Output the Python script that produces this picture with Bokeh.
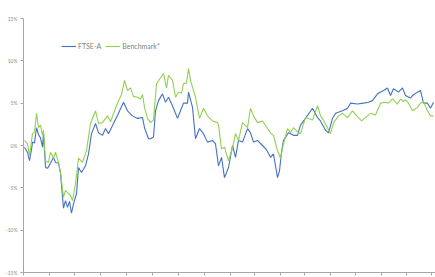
from bokeh.plotting import figure
from bokeh.models import Legend, LegendItem, FixedTicker, Range1d
from bokeh.embed import file_html
from bokeh.resources import INLINE

# trading-day index and cumulative relative performance (%)
ftse_day = [0, 3, 5, 7, 8, 10, 12, 14, 16, 18, 19, 21, 23, 26, 29, 31, 34, 36, 39, 41, 43, 45, 47, 49,
            52, 54, 57, 61, 64, 67, 71, 74, 78, 81, 84, 89, 94, 99, 103, 108, 113, 118, 120, 124, 126,
            129, 131, 134, 138, 141, 144, 148, 153, 156, 159, 163, 164, 168, 171, 175, 179, 183, 188,
            191, 194, 197, 200, 204, 208, 211, 214, 218, 223, 226, 229, 233, 238, 242, 246, 249, 253,
            255, 257, 259, 264, 269, 273, 276, 281, 288, 293, 296, 301, 304, 308, 311, 318, 323, 326,
            333, 339, 344, 348, 353, 359, 363, 366, 369, 374, 378, 381, 386, 388, 393, 396, 399, 403,
            406, 409]
ftse_val = [-0.2, -0.8, -1.8, -0.5, 0.4, 0.3, 2.1, 1.3, 0.9, -0.2, 1.4, -2.6, -2.7, -2.1, -1.4, -2.0,
            -2.1, -3.3, -7.4, -6.5, -7.3, -6.6, -8.0, -6.9, -5.7, -2.6, -3.2, -2.4, -1.0, 1.4, 2.6, 1.5,
            1.2, 2.0, 1.4, 2.6, 3.8, 5.1, 4.1, 3.5, 3.2, 3.3, 2.1, 0.8, 0.8, 1.0, 4.1, 5.3, 6.1, 5.1,
            5.7, 4.7, 3.2, 4.1, 5.0, 5.0, 6.3, 4.5, 0.8, 2.0, 1.4, 0.4, 0.6, 0.2, -2.4, -1.4, -3.8,
            -2.6, 0.0, -1.4, 0.6, 0.4, 2.0, 1.5, 0.4, 0.6, 0.0, -0.5, -1.4, -1.0, -3.8, -3.0, -0.8,
            0.6, 1.5, 1.2, 1.2, 2.4, 3.2, 4.4, 3.3, 2.9, 1.8, 1.5, 3.2, 3.8, 4.1, 4.4, 5.0, 4.9, 5.0,
            5.1, 5.3, 6.1, 6.5, 6.8, 5.9, 6.7, 6.3, 6.8, 5.9, 5.6, 5.9, 6.3, 6.5, 5.0, 5.0, 4.4, 5.1]

bench_day = [0, 3, 5, 8, 10, 12, 14, 16, 18, 19, 21, 24, 26, 29, 31, 34, 36, 39, 41, 44, 46, 48, 51,
             54, 58, 62, 66, 71, 74, 78, 83, 86, 91, 94, 97, 100, 103, 106, 109, 113, 116, 118, 120,
             123, 126, 129, 132, 136, 139, 142, 144, 148, 151, 154, 157, 159, 162, 164, 166, 171,
             175, 179, 183, 188, 193, 194, 197, 200, 204, 208, 211, 214, 218, 223, 226, 229, 233,
             238, 243, 246, 249, 253, 256, 259, 263, 266, 269, 273, 276, 281, 288, 293, 296, 299,
             303, 306, 309, 314, 318, 323, 328, 333, 337, 341, 346, 351, 356, 361, 364, 368, 373,
             376, 379, 381, 384, 388, 393, 396, 399, 403, 406, 409]
bench_val = [0.6, 0.2, -1.2, 1.4, 1.6, 3.8, 2.1, 2.4, 1.2, 1.8, -1.8, -2.0, -0.8, -1.5, -0.8, -2.0,
             -3.2, -6.1, -5.3, -5.7, -5.9, -6.5, -4.5, -1.5, -2.0, -0.6, 2.6, 4.1, 2.6, 2.7, 3.5, 2.8,
             4.4, 5.3, 6.0, 7.7, 6.5, 6.8, 5.8, 5.7, 5.5, 6.0, 4.5, 3.2, 2.7, 3.0, 7.3, 8.0, 8.5, 6.8,
             8.3, 7.7, 5.7, 6.3, 6.2, 7.3, 7.4, 9.1, 7.7, 5.7, 3.2, 4.4, 3.5, 2.9, 2.7, 2.4, -0.4,
             -0.2, -1.8, -0.3, 1.4, 0.6, 2.7, 2.1, 4.4, 3.5, 2.7, 2.9, 2.0, 1.5, 1.2, -0.6, -1.5, 0.2,
             2.0, 1.5, 2.1, 1.6, 1.4, 3.3, 3.0, 4.7, 3.5, 3.0, 2.1, 1.4, 2.7, 3.5, 3.8, 3.3, 4.1, 3.4,
             2.9, 3.3, 3.8, 3.6, 5.0, 5.1, 5.0, 5.5, 4.9, 5.5, 5.2, 5.4, 5.0, 4.1, 4.5, 5.0, 5.2, 4.1,
             3.5, 3.5, 4.1]

series_names = ["FTSE-A", "Benchmark*"]
y_ticks = [-15, -10, -5, 0, 5, 10, 15]
x_ticks = [-1, 25, 50, 76, 102, 128, 154, 180, 206, 230, 256, 280, 306, 331, 357, 382, 407]

BLUE = "#4472C4"
GREEN = "#92D050"
GREY = "#A6A6A6"

p = figure(width=435, height=277, output_backend="svg", toolbar_location=None,
           x_range=Range1d(-1, 411), y_range=Range1d(-15, 15),
           min_border_left=23, min_border_right=0, min_border_top=18, min_border_bottom=5)
p.outline_line_color = None
p.xgrid.grid_line_color = None
p.ygrid.grid_line_color = None

r1 = p.line(ftse_day, ftse_val, color=BLUE, line_width=1.1)
r2 = p.line(bench_day, bench_val, color=GREEN, line_width=1.1)

p.yaxis.ticker = FixedTicker(ticks=y_ticks)
p.yaxis.major_label_overrides = {t: f"{t}%" for t in y_ticks}
p.yaxis.major_label_text_font_size = "5px"
p.yaxis.major_label_text_color = "#8C8C8C"
p.yaxis.major_label_text_font = "Lato"
p.yaxis.axis_line_color = GREY
p.yaxis.major_tick_line_color = GREY
p.yaxis.major_tick_out = 3
p.yaxis.major_tick_in = 0
p.yaxis.minor_tick_line_color = None
p.yaxis.major_label_standoff = 3

p.xaxis.ticker = FixedTicker(ticks=x_ticks)
p.xaxis.major_label_overrides = {t: "" for t in x_ticks}
p.xaxis.major_label_text_font_size = "0px"
p.xaxis.major_label_text_line_height = 0
p.xaxis.axis_line_color = GREY
p.xaxis.major_tick_line_color = GREY
p.xaxis.major_tick_out = 3
p.xaxis.major_tick_in = 0
p.xaxis.minor_tick_line_color = None
p.xaxis.major_label_standoff = 0

legend = Legend(items=[LegendItem(label=series_names[0], renderers=[r1]),
                       LegendItem(label=series_names[1], renderers=[r2])],
                orientation="horizontal", location=(38, 222),
                label_text_font_size="7px", label_text_color="#7F7F7F", label_text_font="Lato",
                glyph_width=15, glyph_height=8, spacing=4, padding=2, margin=0,
                label_standoff=2, border_line_color=None, background_fill_alpha=0)
p.add_layout(legend, "center")

open("out.html", "w").write(file_html(p, INLINE))
